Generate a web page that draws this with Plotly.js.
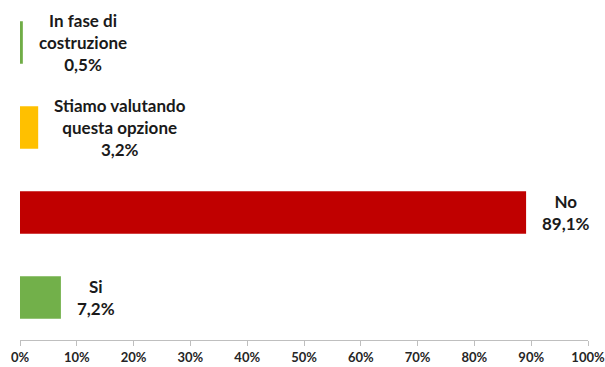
<!DOCTYPE html>
<html>
<head>
<meta charset="utf-8">
<script src="https://cdn.plot.ly/plotly-3.0.1.min.js"></script>
<style>html,body{margin:0;padding:0;background:#fff;}#chart{width:605px;height:367px;}</style>
</head>
<body>
<div id="chart"></div>
<script>
var categories = ["Si", "No", "Stiamo valutando<br>questa opzione", "In fase di<br>costruzione"];
var values = [7.2, 89.1, 3.2, 0.5];
var valueLabels = ["7,2%", "89,1%", "3,2%", "0,5%"];
var barColors = ["#72b04a", "#c00000", "#ffc000", "#70ad47"];
var tickValues = [0, 10, 20, 30, 40, 50, 60, 70, 80, 90, 100];
var tickLabels = ["0%", "10%", "20%", "30%", "40%", "50%", "60%", "70%", "80%", "90%", "100%"];

var yIdx = categories.map(function (c, i) { return i; });

var trace = {
  type: "bar",
  orientation: "h",
  x: values,
  y: yIdx,
  width: 0.5,
  marker: { color: barColors, line: { width: 0 } },
  hoverinfo: "none"
};

var annotations = categories.map(function (c, i) {
  return {
    x: values[i], y: yIdx[i], xref: "x", yref: "y",
    text: "<b>" + c + "<br>" + valueLabels[i] + "</b>",
    showarrow: false, xanchor: "left", yanchor: "middle", align: "center",
    xshift: 14,
    font: { family: "Lato, 'Open Sans', sans-serif", size: 17, color: "#1a1a1a" }
  };
});

var layout = {
  width: 605, height: 367,
  margin: { l: 20, r: 17, t: 0, b: 27 },
  paper_bgcolor: "#ffffff", plot_bgcolor: "#ffffff",
  showlegend: false,
  xaxis: {
    range: [0, 100], tickvals: tickValues, ticktext: tickLabels,
    showgrid: false, zeroline: false,
    showline: true, linecolor: "#bfbfbf", linewidth: 1,
    ticks: "outside", ticklen: 5, tickcolor: "#bfbfbf",
    tickfont: { family: "Lato, 'Open Sans', sans-serif", size: 13, color: "#262626", weight: "bold" },
    fixedrange: true
  },
  yaxis: {
    range: [-0.5, 3.5],
    showticklabels: false, showgrid: false, zeroline: false, showline: false,
    ticks: "", fixedrange: true
  },
  annotations: annotations
};

Plotly.newPlot("chart", [trace], layout, { displayModeBar: false, staticPlot: true });
</script>
</body>
</html>
